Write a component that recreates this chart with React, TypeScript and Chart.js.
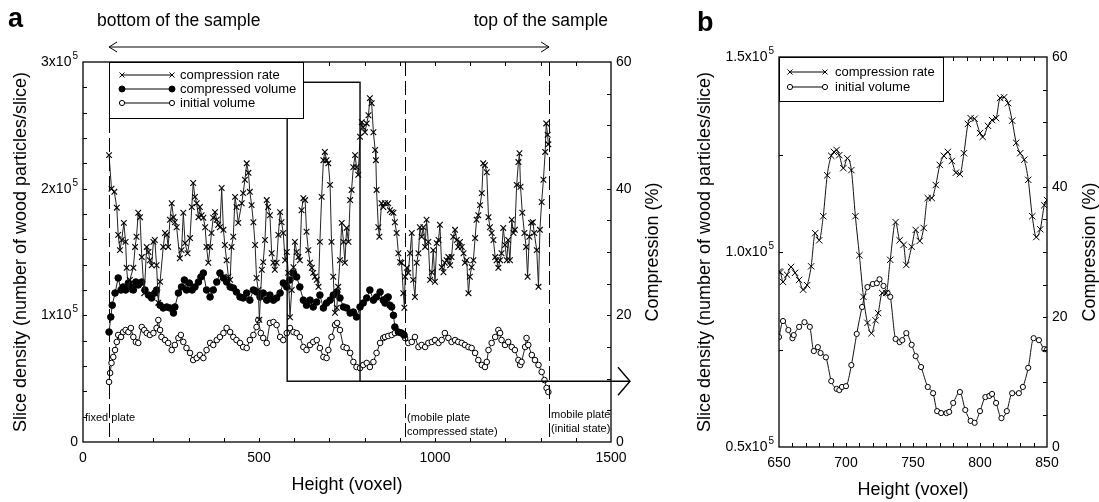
import React, { useEffect, useRef } from "react";
import { Chart, registerables } from "chart.js";

Chart.register(...registerables);

const FONT = "'Liberation Sans', Arial, Helvetica, sans-serif";

// ---------------- Panel a ----------------
// [height (voxel), compression rate (%)]
const aRate: [number, number][] = [
  [74, 45.3], [81, 40], [89, 39.5], [96, 37], [100, 32.7], [105, 30.3], [110, 31.9], [116, 34.6], [121, 31.6], [124, 27.5],
  [129, 24], [133, 25.6], [143, 27.5], [148, 30.8], [152, 32.4], [157, 36.2], [162, 35.5], [167, 29.2], [174, 23.5], [181, 30.8],
  [186, 30], [190, 28.7], [195, 27.9], [200, 31.6], [204, 31.9], [209, 27.9], [214, 22], [219, 25.3], [228, 30.8], [233, 33],
  [238, 32.7], [242, 30.8], [247, 35.1], [252, 37.7], [257, 35.5], [261, 34.7], [266, 33.9], [275, 29], [280, 30.3], [285, 36.2],
  [290, 31.4], [297, 29.8], [304, 32.2], [309, 37.1], [313, 40.9], [318, 38.7], [323, 37.7], [328, 35.5], [332, 37.1], [337, 35.8],
  [342, 35.4], [347, 33.9], [351, 30.8], [356, 28.3], [361, 30.8], [365, 33], [370, 35.4], [375, 36.3], [380, 35.1], [384, 34.3],
  [389, 33.9], [394, 40.1], [399, 33.5], [403, 31.1], [408, 28.7], [413, 26.1], [418, 25.6], [422, 30.8], [427, 32.4], [432, 38.7],
  [436, 37.1], [441, 34.6],
  [451, 37.7], [455, 39.3], [460, 41.4], [465, 44], [470, 42.5], [474, 39.5], [479, 37.4], [484, 34.7], [489, 31.1], [493, 25.9],
  [498, 24], [501, 19.3], [508, 27.2], [512, 28.4], [517, 31.9], [522, 38.2], [526, 37.1], [531, 35.8], [536, 29.8], [541, 28.3],
  [545, 27.2], [550, 28.3], [555, 32.7], [560, 36.3], [564, 34.7], [569, 33], [574, 28.7], [579, 30], [583, 26.7], [588, 19.7],
  [593, 24], [598, 27.6], [602, 31.6], [607, 30], [612, 29.2], [616, 28.7], [621, 36.6], [626, 38.5], [631, 38.2], [635, 33.2],
  [640, 30.3], [645, 28.3], [650, 27.5], [654, 26.7], [659, 26.1], [664, 25.6], [669, 24.5], [673, 31.6], [678, 38.7], [683, 44.5],
  [687, 45.8], [692, 44.5], [697, 44], [702, 40.6], [706, 31.6], [711, 26.1], [716, 20.4], [721, 21.2], [725, 24.5], [730, 28.7],
  [735, 34.6], [740, 31.6], [744, 28.3], [749, 33.8], [754, 31.6], [759, 38.2], [763, 39.8], [768, 43.4], [773, 45.3], [777, 43.4],
  [782, 42.2], [787, 48.2], [792, 50.5], [796, 49.7], [801, 48.9], [806, 50.3], [811, 51.6], [815, 54.3], [820, 53.5], [825, 48.9],
  [830, 46.1], [832, 44.5], [834, 39.8], [839, 33.9], [842, 32.4], [848, 37.7], [853, 37.1], [858, 37.7],
  [867, 37.7], [872, 36.6], [877, 36.3], [882, 36.2], [886, 34.7], [891, 33], [896, 29.8], [901, 28.4], [905, 28.3], [910, 23.5],
  [913, 21.2], [915, 26.1], [920, 27.5], [924, 26.7], [929, 29.8], [934, 33], [938, 25.6], [943, 22.9], [948, 28.3], [953, 29.8],
  [957, 33.9], [962, 32.4], [967, 33.9], [972, 30.8], [976, 35.1], [981, 31.6], [986, 25.6], [991, 26.8], [995, 30.3], [1000, 25.3],
  [1005, 31.4], [1010, 31.9], [1014, 34.3], [1019, 27.6], [1024, 26.8], [1028, 28.3], [1033, 28.7], [1038, 29.2], [1043, 27.9], [1047, 29.2],
  [1052, 32.4], [1057, 33.5], [1062, 31.9], [1066, 30.8], [1071, 31.6], [1076, 30.8], [1081, 29.8], [1085, 28.3], [1090, 28.7], [1095, 23.5],
  [1099, 26.1], [1104, 27.6], [1109, 28.7], [1114, 32.2], [1118, 35.1], [1123, 35.8], [1128, 37.4], [1133, 39.3], [1137, 44], [1142, 43.7],
  [1147, 42.6], [1152, 35.5], [1156, 33.9], [1161, 33], [1166, 31.9], [1171, 29.2], [1175, 28.7], [1180, 27.5], [1185, 28.7], [1189, 29.8],
  [1194, 33.8], [1199, 31.1], [1204, 28.7], [1208, 31.9], [1213, 28.7], [1218, 35.1], [1223, 33], [1227, 33.5], [1232, 40.6], [1237, 44.2],
  [1240, 45.6], [1243, 40.3], [1248, 36.2], [1254, 33], [1259, 30.8], [1263, 26.1], [1268, 32.4], [1273, 34.6], [1278, 34.7], [1282, 33],
  [1289, 30.3], [1294, 24.5], [1298, 33.5], [1303, 37.9], [1308, 41.4], [1313, 45.8], [1316, 50.3], [1320, 48.5], [1322, 47],
];

// [height (voxel), compressed volume (thousand particles/slice)]
const aCompressed: [number, number][] = [
  [74, 86.8], [79, 98.7], [83, 108], [91, 117.6], [100, 129.5], [108, 120], [114, 122.4], [121, 120], [129, 125.5], [136, 122.4],
  [143, 120], [150, 126.3], [157, 124], [167, 126.3], [176, 120], [186, 116], [195, 113.7], [204, 117.6], [209, 120], [219, 108],
  [228, 105.8], [238, 106.6], [247, 105.8], [257, 101.8], [261, 106.6], [271, 117.6], [280, 122.4], [288, 127.9], [294, 120], [302, 125.5],
  [310, 120], [318, 122.4], [328, 126.3], [335, 130.3], [342, 133.4], [351, 120], [361, 114.5], [370, 120], [380, 126.3], [389, 133.4],
  [399, 129.5], [408, 126.3], [418, 122.4], [427, 121.6], [436, 118.4],
  [446, 114.5], [455, 113.7], [465, 117.6], [474, 112], [484, 120], [493, 118.4], [503, 114.5], [512, 117.6], [522, 112], [531, 116],
  [541, 112], [550, 113.7], [560, 117.6], [569, 125.5], [579, 122.4], [588, 127.9], [598, 133.4], [607, 130.3], [616, 122.4], [626, 112],
  [635, 108], [645, 112], [654, 106.6], [664, 110.5], [673, 116], [683, 105.8], [692, 109.7], [702, 112], [711, 116], [721, 118.4],
  [730, 113.7], [740, 106.6], [749, 105.8], [759, 101.8], [768, 102.6], [777, 98.7], [787, 106.6], [796, 109.7], [806, 113.7], [815, 120],
  [825, 112], [834, 114.5], [844, 118.4], [853, 112], [858, 109.7], [863, 113.7], [867, 114.5], [872, 108], [877, 106.6], [882, 100],
  [886, 90.8], [896, 86.8], [905, 86], [912, 84.5],
];

// [height (voxel), initial volume (thousand particles/slice)]
const aInitial: [number, number][] = [
  [74, 47.4], [77, 54.5], [81, 62.4], [86, 67.1], [91, 72.6], [96, 79], [100, 84.5], [108, 82.9], [114, 86.8], [121, 88.4],
  [129, 86.8], [136, 90], [143, 82.9], [150, 79], [157, 78.2], [167, 90.8], [174, 88.4], [181, 86], [190, 84.5], [200, 86],
  [209, 90], [214, 96.3], [219, 88.4], [223, 82.9], [233, 80.5], [242, 78.2], [252, 72.6], [261, 76.6], [271, 82.1], [278, 84.5],
  [285, 79], [294, 74.2], [304, 70.3], [313, 64.7], [323, 66.3], [332, 68.7], [342, 66.3], [351, 72.6], [361, 78.2], [370, 76.6],
  [380, 80.5], [389, 82.9], [399, 86], [408, 90], [418, 86.8], [427, 82.9], [436, 80.5],
  [446, 78.2], [455, 75], [465, 74.2], [474, 80.5], [484, 84.5], [493, 90.8], [498, 96.3], [505, 86], [512, 82.1], [522, 78.2],
  [531, 94], [541, 94.7], [550, 92.4], [560, 82.9], [569, 80.5], [579, 86], [588, 90], [598, 86.8], [607, 86], [616, 82.9],
  [626, 75], [635, 72.6], [645, 76.6], [654, 79], [664, 80.5], [673, 74.2], [683, 67.1], [692, 66.3], [697, 72.6], [706, 82.9],
  [716, 92.4], [722, 94], [730, 88.4], [740, 75], [749, 74.2], [759, 70.3], [768, 63.2], [777, 59.2], [787, 58.4], [796, 60.8],
  [806, 62.4], [815, 59.2], [825, 63.2], [834, 70.3], [844, 78.2], [853, 82.1],
  [858, 82.9], [867, 83.7], [877, 84.5], [886, 86], [896, 86.8], [905, 86], [915, 82.1], [924, 78.2], [934, 79], [943, 82.9],
  [953, 75], [962, 76.6], [972, 75], [981, 78.2], [991, 79], [1000, 80.5], [1010, 78.2], [1019, 80.5], [1028, 86], [1038, 82.1],
  [1047, 79], [1057, 80.5], [1066, 79], [1076, 78.2], [1085, 76.6], [1095, 75], [1104, 74.2], [1114, 70.3], [1123, 64.7], [1133, 60.8],
  [1142, 59.2], [1147, 63.2], [1152, 72.6], [1161, 78.2], [1171, 82.9], [1180, 88.4], [1185, 86], [1189, 80.5], [1199, 76.6], [1208, 79],
  [1218, 75], [1227, 72.6], [1237, 64.7], [1242, 60.8], [1246, 63.2], [1256, 75], [1260, 82.1], [1265, 76.6], [1275, 68.7], [1284, 64.7],
  [1294, 60.8], [1303, 55.3], [1311, 48.9], [1317, 42.6], [1322, 39.5],
];

const aPlates = [74, 915, 1324];
const aXTicks = [0, 500, 1000, 1500];
const aLeftTicks: [number, string, string][] = [[0, "0", ""], [100, "1x10", "5"], [200, "2x10", "5"], [300, "3x10", "5"]];
const aRightTicks = [0, 20, 40, 60];
const aZoom = { x0: 580, x1: 787, y0: 48, y1: 284 };

// ---------------- Panel b ----------------
const bRate: [number, number][] = [
  [650, 27], [651, 26.9], [653, 25.4], [656, 26.5], [659, 27.7], [662, 26.8], [665, 25.7], [668, 24.2], [671, 24.9], [674, 27.8],
  [677, 32.9], [680, 31.8], [683, 35.5], [686, 41.8], [689, 44.8], [691, 45.4], [693, 45.7], [695, 44.9], [698, 42.9], [701, 44.4],
  [704, 42.6], [707, 35.5], [710, 29.5], [713, 23.1], [716, 19.1], [719, 17.5], [722, 19.5], [724, 20.6], [727, 23.7], [730, 23.7],
  [733, 28.8], [737, 34.6], [740, 31.8], [743, 31.1], [745, 28], [749, 30.8], [752, 33.4], [755, 31.7], [758, 33.7], [761, 38.3],
  [764, 38.3], [767, 40.3], [770, 43.4], [773, 44.8], [776, 45.4], [779, 44], [782, 42.2], [785, 42], [788, 45.2], [791, 49.7],
  [793, 50.6], [796, 50.5], [800, 48.3], [802, 47.7], [806, 49.4], [809, 50.3], [812, 50.6], [815, 53.7], [818, 53.8], [821, 52.9],
  [824, 50.2], [827, 46.8], [830, 45.2], [833, 44.2], [836, 41.1], [839, 35.5], [842, 32.3], [845, 33.5], [848, 37.2], [850, 38],
];
const bInitial: [number, number][] = [
  [650, 78.2], [653, 82.3], [657, 80], [660, 77.9], [661, 78.7], [665, 80.8], [669, 82], [673, 80.8], [676, 74.6], [679, 75.6],
  [681, 74.1], [685, 73], [689, 66.9], [693, 64.9], [695, 64.6], [697, 65.4], [700, 65.6], [704, 71], [708, 79], [712, 85.9],
  [716, 91], [720, 91.8], [723, 92], [725, 93], [728, 91.3], [731, 89.5], [733, 88.5], [737, 77.7], [740, 76.9], [742, 77.4],
  [745, 79.2], [749, 76.2], [752, 73.3], [756, 70.5], [761, 65.4], [765, 63.8], [768, 59.2], [771, 58.7], [775, 58.7], [777, 59],
  [780, 61.3], [785, 64.1], [789, 59.5], [793, 56.7], [796, 56.2], [800, 59.2], [804, 62.8], [807, 63.1], [809, 63.6], [812, 61.3],
  [816, 57.4], [820, 59.2], [824, 63.8], [829, 63.8], [832, 65.4], [836, 70.3], [840, 77.9], [844, 77.4], [848, 75.1], [850, 75],
];
const bXTicks = [650, 700, 750, 800, 850];
const bLeftTicks: [number, string, string][] = [[50, "0.5x10", "5"], [100, "1.0x10", "5"], [150, "1.5x10", "5"]];
const bRightTicks = [0, 20, 40, 60];

// ---------------- drawing helpers ----------------
type Ctx = CanvasRenderingContext2D;

function seg(ctx: Ctx, x1: number, y1: number, x2: number, y2: number) {
  ctx.beginPath();
  ctx.moveTo(x1, y1);
  ctx.lineTo(x2, y2);
  ctx.stroke();
}

function mark(ctx: Ctx, kind: string, x: number, y: number, r: number) {
  ctx.beginPath();
  if (kind === "x") {
    const d = r * 0.72;
    ctx.moveTo(x - d, y - d);
    ctx.lineTo(x + d, y + d);
    ctx.moveTo(x - d, y + d);
    ctx.lineTo(x + d, y - d);
    ctx.stroke();
    return;
  }
  ctx.arc(x, y, r, 0, Math.PI * 2);
  ctx.fillStyle = kind === "dot" ? "#000" : "#fff";
  ctx.fill();
  ctx.fillStyle = "#000";
  ctx.stroke();
}

function legendBox(
  ctx: Ctx, x0: number, y0: number, x1: number, y1: number,
  rows: { kind: string; label: string; y: number; r: number }[],
  lx0: number, lx1: number, tx: number, size: number
) {
  ctx.fillStyle = "#fff";
  ctx.fillRect(x0, y0, x1 - x0, y1 - y0);
  ctx.fillStyle = "#000";
  ctx.strokeStyle = "#000";
  ctx.lineWidth = 1;
  ctx.strokeRect(x0 + 0.5, y0 + 0.5, x1 - x0, y1 - y0);
  ctx.font = `${size}px ${FONT}`;
  ctx.textAlign = "left";
  ctx.textBaseline = "middle";
  for (const row of rows) {
    ctx.lineWidth = 1;
    seg(ctx, lx0, row.y, lx1, row.y);
    mark(ctx, row.kind, lx0, row.y, row.r);
    mark(ctx, row.kind, lx1, row.y, row.r);
    ctx.fillText(row.label, tx, row.y);
  }
}

function supLabel(ctx: Ctx, base: string, sup: string, xr: number, y: number, size: number) {
  ctx.textAlign = "left";
  ctx.textBaseline = "middle";
  ctx.font = `${size}px ${FONT}`;
  const wb = ctx.measureText(base).width;
  const ss = Math.round(size * 0.72);
  ctx.font = `${ss}px ${FONT}`;
  const ws = sup ? ctx.measureText(sup).width + 1 : 0;
  const x0 = xr - wb - ws;
  ctx.font = `${size}px ${FONT}`;
  ctx.fillText(base, x0, y);
  if (sup) {
    ctx.font = `${ss}px ${FONT}`;
    ctx.fillText(sup, x0 + wb + 1, y - size * 0.42);
  }
}

function vTitle(ctx: Ctx, text: string, x: number, y: number, size: number) {
  ctx.save();
  ctx.translate(x, y);
  ctx.rotate(-Math.PI / 2);
  ctx.textAlign = "center";
  ctx.textBaseline = "middle";
  ctx.font = `${size}px ${FONT}`;
  ctx.fillStyle = "#000";
  ctx.fillText(text, 0, 0);
  ctx.restore();
}

function frame(chart: any, xStep: number, lStep: number, rStep: number) {
  const { ctx, chartArea: ca, scales } = chart;
  const sx = scales.x, sl = scales.y, sr = scales.y2;
  ctx.strokeStyle = "#000";
  ctx.lineWidth = 1.3;
  ctx.strokeRect(ca.left, ca.top, ca.right - ca.left, ca.bottom - ca.top);
  ctx.lineWidth = 1;
  const tl = 4;
  for (let v = sx.min + xStep; v < sx.max - 1e-6; v += xStep) {
    const x = Math.round(sx.getPixelForValue(v)) + 0.5;
    seg(ctx, x, ca.bottom, x, ca.bottom - tl);
    seg(ctx, x, ca.top, x, ca.top + tl);
  }
  for (let v = sl.min + lStep; v < sl.max - 1e-6; v += lStep) {
    const y = Math.round(sl.getPixelForValue(v)) + 0.5;
    seg(ctx, ca.left, y, ca.left + tl, y);
  }
  for (let v = sr.min + rStep; v < sr.max - 1e-6; v += rStep) {
    const y = Math.round(sr.getPixelForValue(v)) + 0.5;
    seg(ctx, ca.right, y, ca.right - tl, y);
  }
}

function tickLabels(chart: any, xt: number[], lt: [number, string, string][], rt: number[], size: number) {
  const { ctx, chartArea: ca, scales } = chart;
  const sx = scales.x, sl = scales.y, sr = scales.y2;
  ctx.fillStyle = "#000";
  ctx.font = `${size}px ${FONT}`;
  ctx.textAlign = "center";
  ctx.textBaseline = "middle";
  for (const v of xt) ctx.fillText(String(v), sx.getPixelForValue(v), ca.bottom + 16);
  for (const [v, b, s] of lt) supLabel(ctx, b, s, ca.left - 5, sl.getPixelForValue(v), size);
  ctx.font = `${size}px ${FONT}`;
  ctx.textAlign = "left";
  ctx.textBaseline = "middle";
  for (const v of rt) ctx.fillText(String(v), ca.right + 5, sr.getPixelForValue(v));
}

function openHead(ctx: Ctx, x: number, y: number, dir: number, len: number, half: number) {
  ctx.beginPath();
  ctx.moveTo(x - dir * len, y - half);
  ctx.lineTo(x, y);
  ctx.lineTo(x - dir * len, y + half);
  ctx.stroke();
}

const panelAPlugin = {
  id: "panelA",
  afterDraw(chart: any) {
    const { ctx, chartArea: ca, scales } = chart;
    const sx = scales.x, sl = scales.y;
    ctx.save();
    ctx.strokeStyle = "#000";
    ctx.fillStyle = "#000";
    // plate positions (dashed)
    ctx.lineWidth = 1;
    ctx.setLineDash([14, 5]);
    for (const p of aPlates) {
      const x = Math.round(sx.getPixelForValue(p)) + 0.5;
      seg(ctx, x, ca.top, x, ca.bottom);
    }
    ctx.setLineDash([]);
    // zoom window
    const zx0 = sx.getPixelForValue(aZoom.x0), zx1 = sx.getPixelForValue(aZoom.x1);
    const zy0 = sl.getPixelForValue(aZoom.y1), zy1 = sl.getPixelForValue(aZoom.y0);
    ctx.lineWidth = 1.4;
    ctx.strokeRect(zx0, zy0, zx1 - zx0, zy1 - zy0);
    const tipX = ca.right + 19;
    seg(ctx, zx1, zy1, tipX, zy1);
    openHead(ctx, tipX, zy1, 1, 12, 14);
    frame(chart, 100, 20, 5);
    tickLabels(chart, aXTicks, aLeftTicks, aRightTicks, 14);
    // legend
    const lx = Math.round(sx.getPixelForValue(aPlates[0]));
    legendBox(ctx, lx, ca.top, 303, 118, [
      { kind: "x", label: "compression rate", y: 75, r: 3.5 },
      { kind: "dot", label: "compressed volume", y: 89, r: 3 },
      { kind: "o", label: "initial volume", y: 103, r: 2.6 },
    ], 122, 172, 180, 13);
    // sample extent arrow
    const p0 = sx.getPixelForValue(aPlates[0]), p2 = sx.getPixelForValue(aPlates[2]);
    ctx.lineWidth = 1;
    seg(ctx, p0, 47, p2, 47);
    openHead(ctx, p0, 47, -1, 8, 5);
    openHead(ctx, p2, 47, 1, 8, 5);
    ctx.font = `17.5px ${FONT}`;
    ctx.textBaseline = "middle";
    ctx.textAlign = "left";
    ctx.fillText("bottom of the sample", 97, 21);
    ctx.textAlign = "right";
    ctx.fillText("top of the sample", 608, 21);
    // plate annotations
    ctx.font = `11px ${FONT}`;
    ctx.textAlign = "left";
    ctx.fillText("fixed plate", ca.left + 2, 418);
    const p1 = sx.getPixelForValue(aPlates[1]);
    ctx.fillText("(mobile plate", p1 + 2, 418);
    ctx.fillText("compressed state)", p1 + 2, 432);
    ctx.fillText("mobile plate", p2 + 2, 415);
    ctx.fillText("(initial state)", p2 + 2, 429);
    // titles
    ctx.font = `bold 27px ${FONT}`;
    ctx.textAlign = "left";
    ctx.fillText("a", 8, 20);
    ctx.font = `18px ${FONT}`;
    ctx.textAlign = "center";
    ctx.fillText("Height (voxel)", (ca.left + ca.right) / 2, ca.bottom + 43);
    vTitle(ctx, "Slice density (number of wood particles/slice)", 21, (ca.top + ca.bottom) / 2, 18);
    vTitle(ctx, "Compression (%)", 653, (ca.top + ca.bottom) / 2, 18);
    ctx.restore();
  },
};

const panelBPlugin = {
  id: "panelB",
  afterDraw(chart: any) {
    const { ctx, chartArea: ca } = chart;
    ctx.save();
    frame(chart, 10, 25, 5);
    tickLabels(chart, bXTicks, bLeftTicks, bRightTicks, 14);
    legendBox(ctx, ca.left, ca.top, 303, 101, [
      { kind: "x", label: "compression rate", y: 72, r: 3.5 },
      { kind: "o", label: "initial volume", y: 87, r: 2.6 },
    ], 150, 185, 195, 13);
    ctx.fillStyle = "#000";
    ctx.font = `bold 27px ${FONT}`;
    ctx.textAlign = "left";
    ctx.textBaseline = "middle";
    ctx.fillText("b", 57, 24);
    ctx.font = `18px ${FONT}`;
    ctx.textAlign = "center";
    ctx.fillText("Height (voxel)", (ca.left + ca.right) / 2, ca.bottom + 43);
    vTitle(ctx, "Slice density (number of wood particles/slice)", 65, (ca.top + ca.bottom) / 2, 18);
    vTitle(ctx, "Compression (%)", 450, (ca.top + ca.bottom) / 2, 18);
    ctx.restore();
  },
};

function hiddenAxis(extra: any) {
  return {
    type: "linear",
    grid: { display: false },
    border: { display: false },
    ticks: { display: false },
    ...extra,
  };
}

function toXY(arr: [number, number][]) {
  return arr.map(([x, y]) => ({ x, y }));
}

const baseOptions = {
  animation: false,
  responsive: false,
  maintainAspectRatio: false,
  events: [],
  plugins: { legend: { display: false }, tooltip: { enabled: false } },
};

export default function App() {
  const refA = useRef<HTMLCanvasElement>(null);
  const refB = useRef<HTMLCanvasElement>(null);

  useEffect(() => {
    const chartA = new Chart(refA.current as HTMLCanvasElement, {
      type: "line",
      data: {
        datasets: [
          {
            data: toXY(aRate), yAxisID: "y2", borderColor: "#222", borderWidth: 1,
            pointStyle: "crossRot", pointRadius: 4, pointBorderColor: "#000", pointBorderWidth: 1.1,
            pointBackgroundColor: "#000", fill: false, tension: 0,
          },
          {
            data: toXY(aCompressed), yAxisID: "y", borderColor: "#222", borderWidth: 1,
            pointStyle: "circle", pointRadius: 3.3, pointBackgroundColor: "#000", pointBorderColor: "#000",
            pointBorderWidth: 1, fill: false, tension: 0,
          },
          {
            data: toXY(aInitial), yAxisID: "y", borderColor: "#222", borderWidth: 1,
            pointStyle: "circle", pointRadius: 2.8, pointBackgroundColor: "#fff", pointBorderColor: "#000",
            pointBorderWidth: 1, fill: false, tension: 0,
          },
        ],
      },
      options: {
        ...baseOptions,
        layout: { padding: { top: 62, left: 0, right: 0, bottom: 0 } },
        scales: {
          x: hiddenAxis({ position: "bottom", min: 0, max: 1500, afterFit: (s: any) => { s.height = 60; } }),
          y: hiddenAxis({ position: "left", min: 0, max: 300, afterFit: (s: any) => { s.width = 83; } }),
          y2: hiddenAxis({ position: "right", min: 0, max: 60, afterFit: (s: any) => { s.width = 89; } }),
        },
      } as any,
      plugins: [panelAPlugin],
    } as any);

    const chartB = new Chart(refB.current as HTMLCanvasElement, {
      type: "line",
      data: {
        datasets: [
          {
            data: toXY(bRate), yAxisID: "y2", borderColor: "#111", borderWidth: 1,
            pointStyle: "crossRot", pointRadius: 4.5, pointBorderColor: "#000", pointBorderWidth: 1,
            fill: false, cubicInterpolationMode: "monotone",
          },
          {
            data: toXY(bInitial), yAxisID: "y", borderColor: "#111", borderWidth: 1,
            pointStyle: "circle", pointRadius: 2.6, pointBackgroundColor: "#fff", pointBorderColor: "#000",
            pointBorderWidth: 1, fill: false, cubicInterpolationMode: "monotone",
          },
        ],
      },
      options: {
        ...baseOptions,
        layout: { padding: { top: 57, left: 0, right: 0, bottom: 0 } },
        scales: {
          x: hiddenAxis({ position: "bottom", min: 650, max: 850, afterFit: (s: any) => { s.height = 55; } }),
          y: hiddenAxis({ position: "left", min: 50, max: 150, afterFit: (s: any) => { s.width = 139; } }),
          y2: hiddenAxis({ position: "right", min: 0, max: 60, afterFit: (s: any) => { s.width = 52; } }),
        },
      } as any,
      plugins: [panelBPlugin],
    } as any);

    return () => {
      chartA.destroy();
      chartB.destroy();
    };
  }, []);

  return (
    <div style={{ position: "fixed", left: 0, top: 0, width: 1099, height: 502, background: "#fff", overflow: "hidden" }}>
      <canvas ref={refA} width={700} height={502} style={{ position: "absolute", left: 0, top: 0, width: 700, height: 502 }} />
      <canvas ref={refB} width={459} height={502} style={{ position: "absolute", left: 640, top: 0, width: 459, height: 502 }} />
    </div>
  );
}
